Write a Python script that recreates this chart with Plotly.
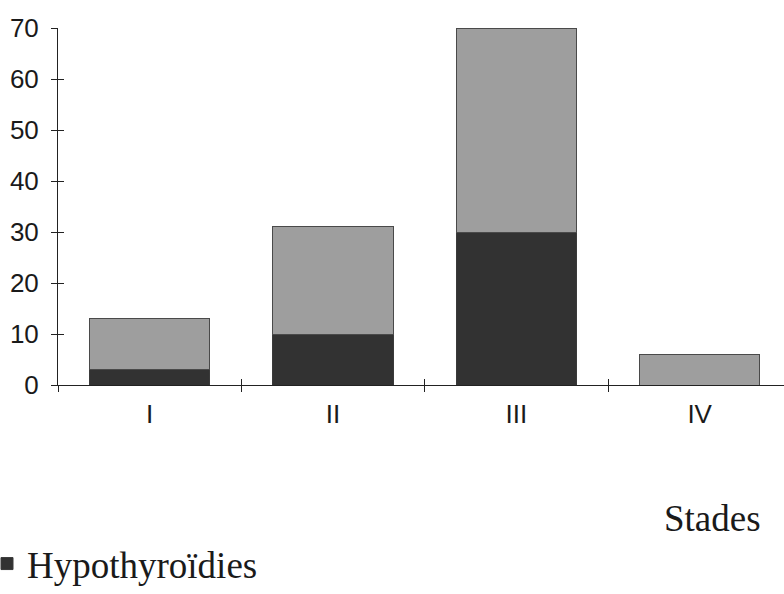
import plotly.graph_objects as go

# Stades cliniques et effectifs
stades = ["I", "II", "III", "IV"]
hypothyroidies = [3, 10, 30, 0]
autres = [10, 21, 40, 6]
y_ticks = [0, 10, 20, 30, 40, 50, 60, 70]

SANS = "Liberation Sans, Arial, sans-serif"
SERIF = "Liberation Serif, Times New Roman, serif"

fig = go.Figure()
fig.add_trace(go.Bar(
    x=stades, y=hypothyroidies, name="Hypothyroïdies",
    marker=dict(color="#323232", line=dict(color="#3a3a3a", width=1)),
    width=0.655,
))
fig.add_trace(go.Bar(
    x=stades, y=autres, name="Autres", showlegend=False,
    marker=dict(color="#9e9e9e", line=dict(color="#4a4a4a", width=1)),
    width=0.655,
))

axis_line = dict(showline=True, linecolor="#222", linewidth=1)

fig.update_layout(
    width=784, height=594,
    barmode="stack",
    plot_bgcolor="white", paper_bgcolor="white",
    margin=dict(l=58, r=0, t=28, b=209, autoexpand=False),
    font=dict(family=SANS, size=26, color="#1a1a1a"),
    xaxis=dict(
        type="category", categoryorder="array", categoryarray=stades,
        range=[-0.5, 3.46], tickson="boundaries",
        ticks="outside", ticklen=6, tickcolor="#222", tickwidth=1,
        ticklabelstandoff=6,
        showgrid=False, zeroline=False, **axis_line,
    ),
    xaxis2=dict(
        type="category", categoryorder="array", categoryarray=stades,
        range=[-0.5, 3.46], tickson="boundaries", overlaying="x",
        ticks="inside", ticklen=6, tickcolor="#222", tickwidth=1,
        showticklabels=False, showgrid=False, zeroline=False, showline=False,
    ),
    yaxis=dict(
        range=[0, 70], tickvals=y_ticks,
        ticks="outside", ticklen=6, tickcolor="#222", tickwidth=1,
        ticklabelstandoff=7,
        showgrid=False, zeroline=False, **axis_line,
    ),
    yaxis2=dict(
        range=[0, 70], tickvals=y_ticks, overlaying="y",
        ticks="inside", ticklen=6, tickcolor="#222", tickwidth=1,
        showticklabels=False, showgrid=False, zeroline=False, showline=False,
    ),
    legend=dict(
        xref="container", yref="paper",
        x=0, y=-179 / 357, xanchor="left", yanchor="middle",
        font=dict(family=SERIF, size=37, color="#1a1a1a"),
        bgcolor="rgba(0,0,0,0)", borderwidth=0,
        itemwidth=30, indentation=-13,
    ),
    showlegend=True,
    annotations=[dict(
        text="Stades", xref="paper", yref="paper",
        x=(712 - 58) / 726, y=-0.375,
        xanchor="center", yanchor="middle", showarrow=False,
        font=dict(family=SERIF, size=37, color="#1a1a1a"),
    )],
)

# invisible traces so the overlay axes get drawn
fig.add_trace(go.Scatter(x=stades, y=[None] * 4, xaxis="x2", yaxis="y2",
                         showlegend=False, hoverinfo="skip"))

fig.write_html("out.html")
